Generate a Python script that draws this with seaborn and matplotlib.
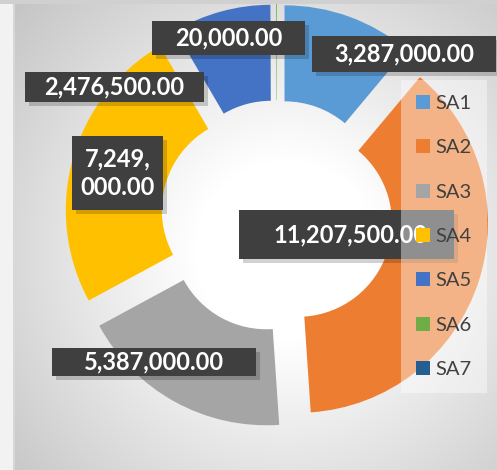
import numpy as np
import matplotlib
matplotlib.use("Agg")
import matplotlib.pyplot as plt
from matplotlib.patches import Rectangle
import seaborn as sns

# ---- data ----
categories = ["SA1", "SA2", "SA3", "SA4", "SA5", "SA6", "SA7"]
values = [3287000, 11207500, 5387000, 7249000, 2476500, 20000, 0]
colors_hex = ["#5B9BD5", "#ED7D31", "#A5A5A5", "#FFC000", "#4472C4", "#70AD47", "#255E91"]

# label boxes (layout, in pixel coords: left, top, right, bottom) per category
label_boxes = {
    "SA1": (312, 36, 496, 72),
    "SA2": (239, 210, 454, 259),
    "SA3": (52, 348, 256, 376),
    "SA4": (72, 136, 163, 210),
    "SA5": (25, 72, 204, 102),
    "SA6": (152, 21, 305, 55),
}
label_text_x = {"SA2": 351}
wrap_labels = {"SA4"}

W, H = 497, 470
sns.set_theme(style="white")
plt.rcParams["font.family"] = ["Lato", "DejaVu Sans"]

palette = sns.color_palette(colors_hex)

fig = plt.figure(figsize=(W / 100, H / 100), dpi=100)
ax = fig.add_axes([0, 0, 1, 1])

def py(row):
    return H - row

# ---- background ----
yy, xx = np.mgrid[0:H, 0:W]
r = np.hypot(xx - 285, yy - 250)
t = np.clip((r - 90) / 280, 0, 1) ** 1.0
g = 255 - (255 - 196) * t
bg = np.dstack([g, g, g]) / 255.0
ax.imshow(bg, extent=(0, W, 0, H), origin="upper", zorder=0, interpolation="bilinear")
ax.add_patch(Rectangle((0, 0), 13, H, facecolor="#f2f2f2", edgecolor="none", zorder=0.5))
ax.plot([13.5, 13.5], [0, H - 4], color="#dadada", lw=1.2, zorder=0.6)
ax.add_patch(Rectangle((0, H - 4), W, 4, facecolor="#d0d0d0", edgecolor="none", zorder=0.6))

# ---- donut ----
wedges, _ = ax.pie(values, colors=palette, startangle=90, counterclock=False,
                   radius=190, center=(277, py(216)), explode=[22] * len(values),
                   wedgeprops=dict(width=96, linewidth=0))
for w in wedges:
    w.set_zorder(2)

ax.set_xlim(0, W)
ax.set_ylim(0, H)
ax.set_aspect("auto")
ax.axis("off")

# ---- data labels ----
for cat, val in zip(categories, values):
    if cat not in label_boxes:
        continue
    l, tp, rt, bt = label_boxes[cat]
    txt = f"{val:,.2f}"
    if cat in wrap_labels:
        parts = txt.split(",")
        txt = ",".join(parts[:2]) + ",\n" + ",".join(parts[2:])
    ax.add_patch(Rectangle((l + 4, py(bt) - 4), rt - l, bt - tp,
                           facecolor="black", alpha=0.18, edgecolor="none", zorder=4))
    ax.add_patch(Rectangle((l, py(bt)), rt - l, bt - tp,
                           facecolor="#3f3f3f", edgecolor="none", zorder=5))
    cx = label_text_x.get(cat, (l + rt) / 2)
    ax.text(cx, py((tp + bt) / 2), txt, color="white", fontsize=17, fontweight="bold",
            ha="center", va="center", linespacing=1.3, zorder=6)

# ---- legend ----
leg = ax.legend(wedges, categories, loc="upper left",
                bbox_to_anchor=(401 / W, 1 - 80 / H), bbox_transform=ax.transAxes,
                borderaxespad=0, fontsize=14.5, frameon=True, framealpha=0.42,
                facecolor="white", edgecolor="none", fancybox=False,
                handlelength=0.7, handleheight=0.7, handletextpad=0.25,
                labelspacing=1.35, borderpad=0.75, labelcolor="#404040")
leg.set_zorder(10)
leg.get_frame().set_linewidth(0)

fig.savefig("out.png", dpi=100)
